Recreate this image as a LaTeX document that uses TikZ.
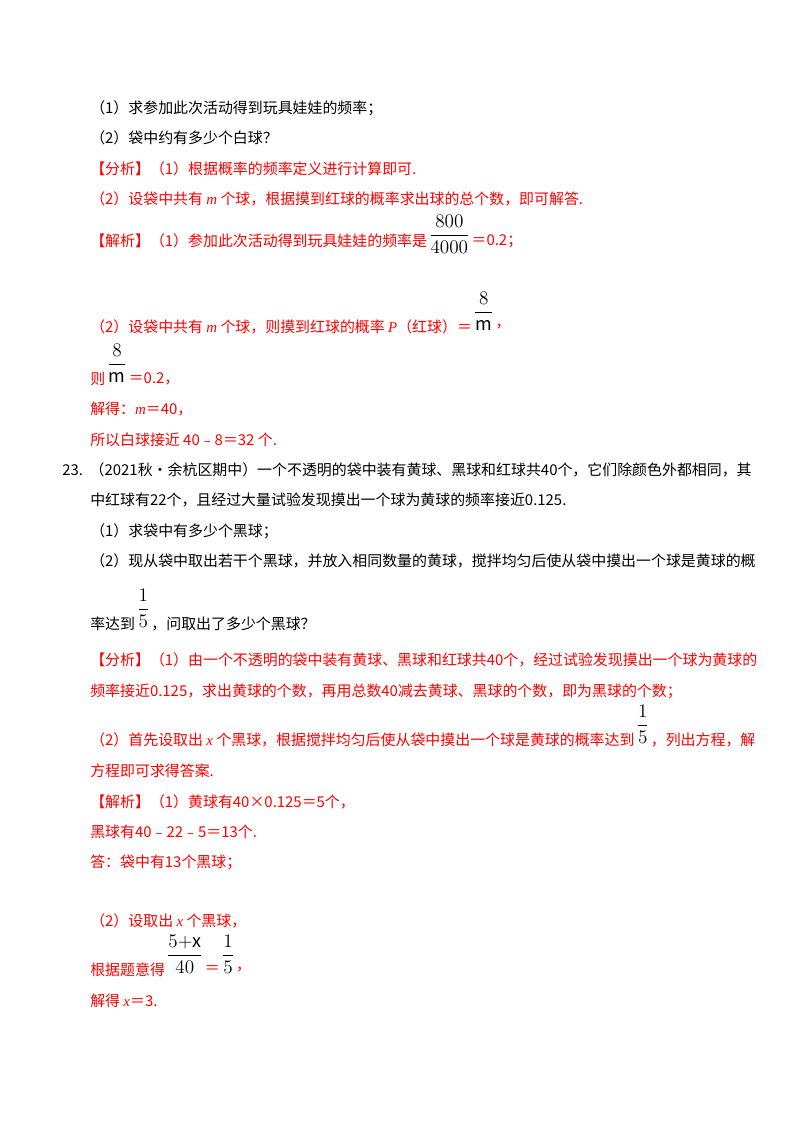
\documentclass[tikz,border=0pt]{standalone}
\usepackage{amsmath}
\usepackage{fontspec}
\setmainfont{Noto Sans CJK SC}
\newfontfamily\lat{Liberation Serif}
\newcommand{\ii}[1]{{\lat\itshape #1}}
\begin{document}
\begin{tikzpicture}[x=0.75pt,y=-0.75pt,
  ln/.style={anchor=west,inner sep=0pt,font=\fontsize{11.2}{13}\selectfont},
  rd/.style={ln,text=red},
  fr/.style={anchor=west,inner sep=1pt,font=\fontsize{13.5}{15}\selectfont}]
\fill[white] (0,0) rectangle (800,1132);
\node[ln] (a1) at (90,108) {（1）求参加此次活动得到玩具娃娃的频率；};
\node[ln] (a2) at (90,138) {（2）袋中约有多少个白球？};
\node[rd] (a3) at (90,169) {【分析】（1）根据概率的频率定义进行计算即可.};
\node[rd] (a4) at (90,199) {（2）设袋中共有 \ii{m} 个球，根据摸到红球的概率求出球的总个数，即可解答.};
\node[rd] (a5) at (90,241) {【解析】（1）参加此次活动得到玩具娃娃的频率是};
\node[fr] (f1) at ([yshift=5]a5.east) {$\dfrac{800}{4000}$};
\node[rd] (a5b) at (a5.east -| f1.east) {＝0.2；};
\node[rd] (a6) at (90,327) {（2）设袋中共有 \ii{m} 个球，则摸到红球的概率 \ii{P}（红球）＝};
\node[fr] (f2) at ([yshift=12]a6.east) {$\dfrac{8}{\mathrm{m}}$};
\node[rd] (a6b) at (a6.east -| f2.east) {，};
\node[rd] (a7) at (90,379) {则};
\node[fr] (f3) at ([yshift=12]a7.east) {$\dfrac{8}{\mathrm{m}}$};
\node[rd] (a7b) at (a7.east -| f3.east) {＝0.2，};
\node[rd] (a8) at (90,409) {解得：\ii{m}＝40，};
\node[rd] (a9) at (90,440) {所以白球接近 40﹣8＝32 个.};
\node[ln] (b0) at (62,470) {23.\ \ （2021秋•余杭区期中）一个不透明的袋中装有黄球、黑球和红球共40个，它们除颜色外都相同，其};
\node[ln] (b1) at (90,500) {中红球有22个，且经过大量试验发现摸出一个球为黄球的频率接近0.125.};
\node[ln] (b2) at (90,531) {（1）求袋中有多少个黑球；};
\node[ln] (b3) at (90,561) {（2）现从袋中取出若干个黑球，并放入相同数量的黄球，搅拌均匀后使从袋中摸出一个球是黄球的概};
\node[ln] (b4) at (90,624) {率达到};
\node[fr] (f4) at ([yshift=12]b4.east) {$\dfrac{1}{5}$};
\node[ln] (b4b) at (b4.east -| f4.east) {，问取出了多少个黑球？};
\node[rd] (c1) at (90,660) {【分析】（1）由一个不透明的袋中装有黄球、黑球和红球共40个，经过试验发现摸出一个球为黄球的};
\node[rd] (c2) at (90,691) {频率接近0.125，求出黄球的个数，再用总数40减去黄球、黑球的个数，即为黑球的个数；};
\node[rd] (c3) at (90,740) {（2）首先设取出 \ii{x} 个黑球，根据搅拌均匀后使从袋中摸出一个球是黄球的概率达到};
\node[fr] (f5) at ([yshift=12]c3.east) {$\dfrac{1}{5}$};
\node[rd] (c3b) at (c3.east -| f5.east) {，列出方程，解};
\node[rd] (c4) at (90,771) {方程即可求得答案.};
\node[rd] (c5) at (90,802) {【解析】（1）黄球有40×0.125＝5个，};
\node[rd] (c6) at (90,832) {黑球有40﹣22﹣5＝13个.};
\node[rd] (c7) at (90,862) {答：袋中有13个黑球；};
\node[rd] (c8) at (90,921) {（2）设取出 \ii{x} 个黑球，};
\node[rd] (c9) at (90,970) {根据题意得};
\node[fr] (f6) at ([yshift=12]c9.east) {$\dfrac{5{+}\mathrm{x}}{40}$};
\node[rd] (c9b) at (c9.east -| f6.east) {＝};
\node[fr] (f7) at ([yshift=12]c9b.east) {$\dfrac{1}{5}$};
\node[rd] (c9c) at (c9.east -| f7.east) {，};
\node[rd] (c10) at (90,1001) {解得 \ii{x}＝3.};
\end{tikzpicture}
\end{document}
